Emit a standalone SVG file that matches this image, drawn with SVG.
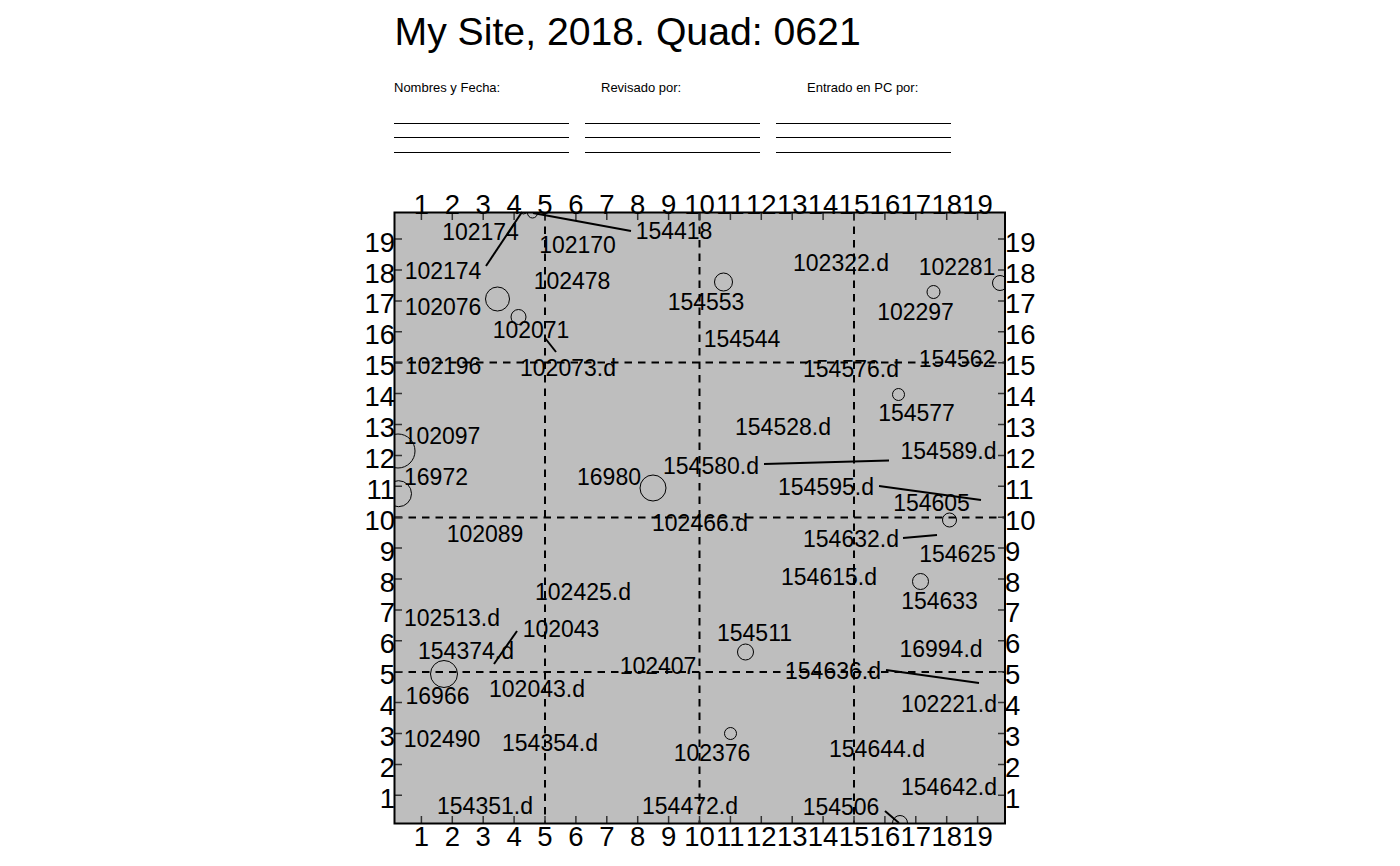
<svg xmlns="http://www.w3.org/2000/svg" width="1400" height="866" viewBox="0 0 1400 866">
<style>
text{font-family:"Liberation Sans",Arial,sans-serif;fill:#000}
.t{font-size:39.2px}
.h{font-size:13px}
.a{font-size:27.5px}
.m{text-anchor:middle}
.e{text-anchor:end}
.l{font-size:23px;text-anchor:middle}
.r{stroke:#000;stroke-width:1;fill:none}
.s{stroke:#000;stroke-width:2;fill:none}
.d{stroke:#000;stroke-width:2;fill:none;stroke-dasharray:7.5 6}
.k{stroke:#333;stroke-width:1.5;fill:none}
.c{stroke:#000;stroke-width:1;fill:none}
</style>
<defs><clipPath id="panel"><rect x="394.5" y="212.5" width="610.5" height="611"/></clipPath></defs>
<rect width="1400" height="866" fill="#fff"/>
<text class="t" x="394.500" y="45">My Site, 2018. Quad: 0621</text>
<g id="form">
<text class="h" x="394" y="92">Nombres y Fecha:</text>
<text class="h" x="601" y="92">Revisado por:</text>
<text class="h" x="807" y="92">Entrado en PC por:</text>
<path class="r" d="M394 123.5H569M394 137.5H569M394 152.5H569M585 123.5H760M585 137.5H760M585 152.5H760M776 123.5H951M776 137.5H951M776 152.5H951"/>
</g>
<rect id="plot" x="394.5" y="212.5" width="610.5" height="611" fill="#bebebe"/>
<g id="grid">
<path class="d" d="M545 213V823M699.5 213V823M854 213V823M395 362.5H1005M395 517.5H1005M395 672H1005"/>
</g>
<g id="ticks">
<path class="k" d="M421.4 213v7M452.3 213v7M483.2 213v7M514.1 213v7M545 213v7M575.9 213v7M606.8 213v7M637.7 213v7M668.6 213v7M699.5 213v7M730.4 213v7M761.3 213v7M792.2 213v7M823.1 213v7M854 213v7M884.9 213v7M915.8 213v7M946.7 213v7M977.6 213v7"/>
<path class="k" d="M421.4 823v-7M452.3 823v-7M483.2 823v-7M514.1 823v-7M545 823v-7M575.9 823v-7M606.8 823v-7M637.7 823v-7M668.6 823v-7M699.5 823v-7M730.4 823v-7M761.3 823v-7M792.2 823v-7M823.1 823v-7M854 823v-7M884.9 823v-7M915.8 823v-7M946.7 823v-7M977.6 823v-7"/>
<path class="k" d="M395 795.3h7M395 764.4h7M395 733.5h7M395 702.6h7M395 671.7h7M395 640.8h7M395 609.9h7M395 579h7M395 548.1h7M395 517.2h7M395 486.3h7M395 455.4h7M395 424.5h7M395 393.6h7M395 362.7h7M395 331.8h7M395 300.9h7M395 270h7M395 239.1h7"/>
<path class="k" d="M1005 795.3h-7M1005 764.4h-7M1005 733.5h-7M1005 702.6h-7M1005 671.7h-7M1005 640.8h-7M1005 609.9h-7M1005 579h-7M1005 548.1h-7M1005 517.2h-7M1005 486.3h-7M1005 455.4h-7M1005 424.5h-7M1005 393.6h-7M1005 362.7h-7M1005 331.8h-7M1005 300.9h-7M1005 270h-7M1005 239.1h-7"/>
</g>
<g id="axis-top" class="a m">
<text x="421.4" y="214">1</text><text x="452.3" y="214">2</text><text x="483.2" y="214">3</text><text x="514.1" y="214">4</text><text x="545" y="214">5</text><text x="575.9" y="214">6</text><text x="606.8" y="214">7</text><text x="637.7" y="214">8</text><text x="668.6" y="214">9</text><text x="699.5" y="214">10</text><text x="730.4" y="214">11</text><text x="761.3" y="214">12</text><text x="792.2" y="214">13</text><text x="823.1" y="214">14</text><text x="854" y="214">15</text><text x="884.9" y="214">16</text><text x="915.8" y="214">17</text><text x="946.7" y="214">18</text><text x="977.6" y="214">19</text>
</g>
<g id="axis-bottom" class="a m">
<text x="421.4" y="846">1</text><text x="452.3" y="846">2</text><text x="483.2" y="846">3</text><text x="514.1" y="846">4</text><text x="545" y="846">5</text><text x="575.9" y="846">6</text><text x="606.8" y="846">7</text><text x="637.7" y="846">8</text><text x="668.6" y="846">9</text><text x="699.5" y="846">10</text><text x="730.4" y="846">11</text><text x="761.3" y="846">12</text><text x="792.2" y="846">13</text><text x="823.1" y="846">14</text><text x="854" y="846">15</text><text x="884.9" y="846">16</text><text x="915.8" y="846">17</text><text x="946.7" y="846">18</text><text x="977.6" y="846">19</text>
</g>
<g id="axis-left" class="a e">
<text x="395" y="807.8">1</text><text x="395" y="776.9">2</text><text x="395" y="746">3</text><text x="395" y="715.1">4</text><text x="395" y="684.2">5</text><text x="395" y="653.3">6</text><text x="395" y="622.4">7</text><text x="395" y="591.5">8</text><text x="395" y="560.6">9</text><text x="395" y="529.7">10</text><text x="395" y="498.8">11</text><text x="395" y="467.9">12</text><text x="395" y="437">13</text><text x="395" y="406.1">14</text><text x="395" y="375.2">15</text><text x="395" y="344.3">16</text><text x="395" y="313.4">17</text><text x="395" y="282.5">18</text><text x="395" y="251.6">19</text>
</g>
<g id="axis-right" class="a">
<text x="1005" y="807.8">1</text><text x="1005" y="776.9">2</text><text x="1005" y="746">3</text><text x="1005" y="715.1">4</text><text x="1005" y="684.2">5</text><text x="1005" y="653.3">6</text><text x="1005" y="622.4">7</text><text x="1005" y="591.5">8</text><text x="1005" y="560.6">9</text><text x="1005" y="529.7">10</text><text x="1005" y="498.8">11</text><text x="1005" y="467.9">12</text><text x="1005" y="437">13</text><text x="1005" y="406.1">14</text><text x="1005" y="375.2">15</text><text x="1005" y="344.3">16</text><text x="1005" y="313.4">17</text><text x="1005" y="282.5">18</text><text x="1005" y="251.6">19</text>
</g>
<g id="circles" clip-path="url(#panel)">
<circle class="c" cx="497.5" cy="299" r="12"/>
<circle class="c" cx="518.5" cy="317" r="7.5"/>
<circle class="c" cx="532.5" cy="213" r="5"/>
<circle class="c" cx="523.5" cy="210" r="4"/>
<circle class="c" cx="723.5" cy="282" r="9"/>
<circle class="c" cx="933.5" cy="292" r="6.5"/>
<circle class="c" cx="1000" cy="283" r="7.5"/>
<circle class="c" cx="898.5" cy="394.5" r="6"/>
<circle class="c" cx="398" cy="451" r="17"/>
<circle class="c" cx="398.5" cy="493.700" r="13"/>
<circle class="c" cx="653" cy="488" r="13"/>
<circle class="c" cx="949.500" cy="520" r="7"/>
<circle class="c" cx="920.5" cy="581.5" r="8"/>
<circle class="c" cx="444" cy="674" r="13.5"/>
<circle class="c" cx="745.5" cy="652" r="8"/>
<circle class="c" cx="730.5" cy="733.5" r="6"/>
<circle class="c" cx="900" cy="823" r="7.500"/>
</g>
<g id="connectors">
<path class="s" d="M486 266L522 212"/>
<path class="s" d="M533 213L631 231"/>
<path class="s" d="M545 338L556 352"/>
<path class="s" d="M764 464L889 460.5"/>
<path class="s" d="M879 486L981 500"/>
<path class="s" d="M903 538L937 535"/>
<path class="s" d="M494 664L517 631"/>
<path class="s" d="M886 670L979 683"/>
<path class="s" d="M885 811L899 823"/>
</g>
<g id="labels" class="l" transform="translate(0,-0.4)">
<text x="480.500" y="240.500">102174</text>
<text x="577.500" y="253.500">102170</text>
<text x="674" y="239.500">154418</text>
<text x="443" y="279.500">102174</text>
<text x="572" y="289.500">102478</text>
<text x="841" y="271">102322.d</text>
<text x="957" y="275.500">102281</text>
<text x="443" y="315.500">102076</text>
<text x="706" y="310.500">154553</text>
<text x="915.500" y="320.500">102297</text>
<text x="531" y="338.500">102071</text>
<text x="742" y="347.500">154544</text>
<text x="443" y="374.500">102196</text>
<text x="568" y="376.500">102073.d</text>
<text x="851" y="377.500">154576.d</text>
<text x="957" y="367.500">154562</text>
<text x="916.500" y="421.500">154577</text>
<text x="442" y="444.500">102097</text>
<text x="783" y="435.500">154528.d</text>
<text x="948.5" y="459.500">154589.d</text>
<text x="711" y="474.500">154580.d</text>
<text x="436" y="485.500">16972</text>
<text x="609" y="485.500">16980</text>
<text x="826" y="495.500">154595.d</text>
<text x="931.500" y="511.500">154605</text>
<text x="700" y="531.500">102466.d</text>
<text x="485" y="542.500">102089</text>
<text x="851" y="547.500">154632.d</text>
<text x="957.500" y="562.500">154625</text>
<text x="829" y="585.500">154615.d</text>
<text x="583" y="600.500">102425.d</text>
<text x="939.500" y="609.500">154633</text>
<text x="452" y="626.500">102513.d</text>
<text x="561" y="637.500">102043</text>
<text x="754.5" y="641.500">154511</text>
<text x="466" y="659.500">154374.d</text>
<text x="941" y="657.500">16994.d</text>
<text x="658" y="674.500">102407</text>
<text x="833" y="679.500">154636.d</text>
<text x="537" y="697.500">102043.d</text>
<text x="437.500" y="704.500">16966</text>
<text x="949" y="712.500">102221.d</text>
<text x="442" y="747.500">102490</text>
<text x="550" y="751.500">154354.d</text>
<text x="712" y="761.500">102376</text>
<text x="877" y="757.500">154644.d</text>
<text x="949" y="795.500">154642.d</text>
<text x="485" y="814.500">154351.d</text>
<text x="690" y="814.500">154472.d</text>
<text x="841" y="815.500">154506</text>
</g>
<rect id="frame" x="394.500" y="212.500" width="610.500" height="611" fill="none" stroke="#000" stroke-width="2"/>
</svg>
